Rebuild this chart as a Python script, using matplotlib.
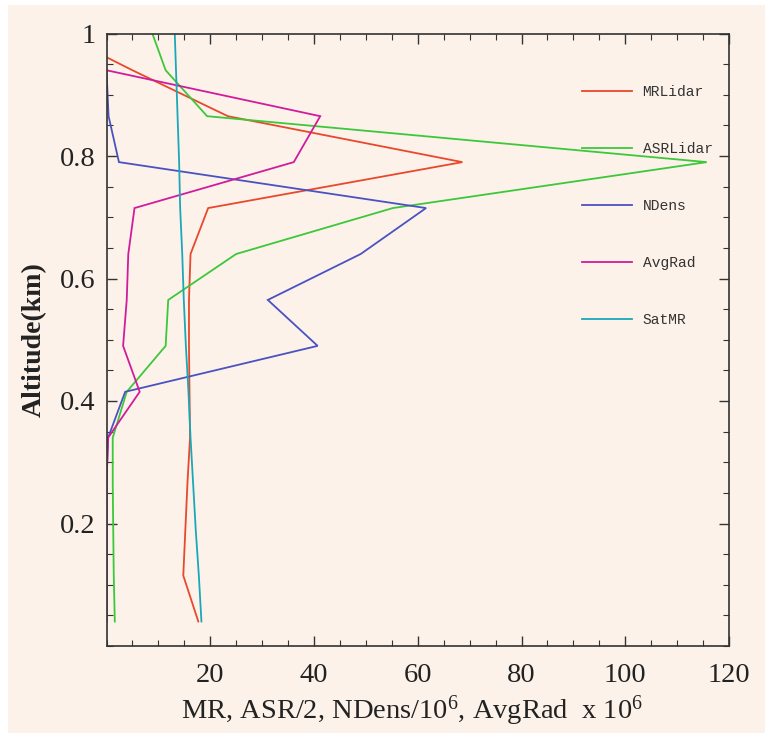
import numpy as np
import matplotlib
matplotlib.use("Agg")
import matplotlib.pyplot as plt
from matplotlib.patches import Rectangle
from matplotlib.ticker import MultipleLocator, FixedLocator

plt.rcParams['mathtext.fontset'] = 'custom'
plt.rcParams['mathtext.rm'] = 'Liberation Serif'
plt.rcParams['mathtext.it'] = 'Liberation Serif:italic'

# ---- data ----
altitude = [0.04, 0.115, 0.19, 0.265, 0.34, 0.415, 0.49, 0.565, 0.64, 0.715, 0.79, 0.865, 0.94, 1.015]
mr_lidar = [17.7, 14.8, 15.2, 15.6, 16.1, 16.0, 15.9, 15.9, 16.2, 19.6, 68.6, 23.4, 5.0, -12.6]
asr_lidar = [1.6, 1.4, 1.3, 1.2, 1.2, 3.9, 11.4, 11.9, 25.0, 55.2, 115.7, 19.4, 11.4, 8.2]
ndens = [0.0, 0.0, 0.0, 0.0, 0.3, 3.6, 40.7, 31.1, 49.0, 61.6, 2.4, 0.4, 0.0, np.nan]
avg_rad = [0.0, 0.0, 0.0, 0.0, 0.3, 6.4, 3.2, 3.9, 4.2, 5.4, 36.1, 41.2, 0.0, np.nan]
sat_mr = [18.3, 17.8, 17.2, 16.7, 16.2, 15.8, 15.3, 14.9, 14.6, 14.2, 14.0, 13.7, 13.4, 13.1]

series_names = ["MRLidar", "ASRLidar", "NDens", "AvgRad", "SatMR"]
series_vals = [mr_lidar, asr_lidar, ndens, avg_rad, sat_mr]
colors = ["#e8482c", "#3cc83a", "#4a52c2", "#d01c9c", "#1aa8b8"]

x_ticks = [20, 40, 60, 80, 100, 120]
y_ticks = [0.2, 0.4, 0.6, 0.8, 1.0]
y_tick_labels = ["0.2", "0.4", "0.6", "0.8", "1"]

W, H = 765, 733
fig = plt.figure(figsize=(W / 100, H / 100), dpi=100)
fig.patch.set_facecolor("white")
bg = "#fcf2ea"
fig.patches.append(Rectangle((8 / W, 0), 1 - 8 / W, 1 - 5 / H, transform=fig.transFigure,
                             facecolor=bg, edgecolor="none", zorder=-10))

ax = fig.add_axes([106.5 / W, (H - 646) / H, (729 - 106.5) / W, (646 - 33.5) / H])
ax.set_facecolor(bg)

for name, vals, c in zip(series_names, series_vals, colors):
    ax.plot(vals, altitude, color=c, lw=1.3, label=name, solid_joinstyle="miter")

ax.set_xlim(0, 120)
ax.set_ylim(0, 1)

ax.xaxis.set_major_locator(FixedLocator(x_ticks))
ax.xaxis.set_minor_locator(MultipleLocator(5))
ax.yaxis.set_major_locator(FixedLocator(y_ticks))
ax.set_yticklabels(y_tick_labels)
ax.yaxis.set_minor_locator(MultipleLocator(0.05))

ax.tick_params(which="both", direction="in", top=True, right=True, colors="#333333",
               labelcolor="#222222")
ax.tick_params(which="major", length=7, width=1.0, labelsize=20.5)
ax.tick_params(which="minor", length=4, width=0.8)
ax.tick_params(axis="x", which="major", pad=12)
ax.tick_params(axis="y", which="major", pad=8)
for lab in ax.get_xticklabels() + ax.get_yticklabels():
    lab.set_family("Liberation Serif")

for sp in ax.spines.values():
    sp.set_color("#333333")
    sp.set_linewidth(1.2)

ax.set_xlabel(r"MR, ASR/2, NDens/$10^6$, AvgRad  x $10^6$", family="Liberation Serif",
              fontsize=20.5, color="#222222")
ax.xaxis.set_label_coords(0.49, -0.077)
ax.set_ylabel("Altitude(km)", family="Liberation Serif", fontsize=20,
              fontweight="bold", color="#222222")
ax.yaxis.set_label_coords(-0.096, 0.5)

leg = ax.legend(loc="upper left", bbox_to_anchor=(582 / W, (H - 85) / H),
                bbox_transform=fig.transFigure, frameon=False,
                prop={"family": "Liberation Mono", "size": 10.5},
                handlelength=3.4, handletextpad=0.75, labelspacing=2.95,
                borderpad=0, borderaxespad=0)
for t in leg.get_texts():
    t.set_color("#333333")

fig.savefig("out.png", dpi=100, facecolor=fig.get_facecolor())
